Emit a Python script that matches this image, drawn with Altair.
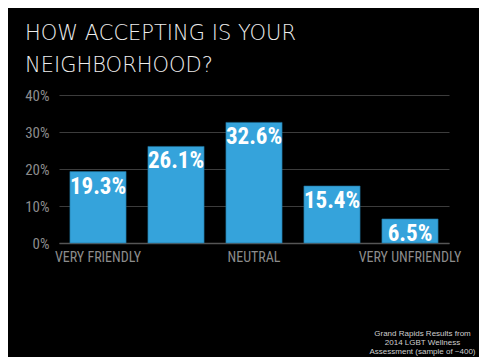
import altair as alt
import pandas as pd

categories = ["VERY FRIENDLY", "FRIENDLY", "NEUTRAL", "UNFRIENDLY", "VERY UNFRIENDLY"]
values = [19.3, 26.1, 32.6, 15.4, 6.5]
shown_labels = ["VERY FRIENDLY", "NEUTRAL", "VERY UNFRIENDLY"]
y_ticks = [0, 10, 20, 30, 40]
title_lines = ["HOW ACCEPTING IS YOUR", "NEIGHBORHOOD?"]
note_lines = ["Grand Rapids Results from", "2014 LGBT Wellness", "Assessment (sample of ~400)"]

df = pd.DataFrame({"cat": categories, "val": values})

COND = "Roboto Condensed, Open Sans Condensed, sans-serif"

label_test = " || ".join([f"datum.label == '{s}'" for s in shown_labels])

x = alt.X(
    "cat:N",
    sort=categories,
    scale=alt.Scale(paddingInner=0.28, paddingOuter=0.14),
    axis=alt.Axis(
        title=note_lines,
        labelExpr=f"({label_test}) ? datum.label : ''",
        labelAngle=0,
        labelFont=COND,
        labelFontSize=14,
        labelColor="#8c8c8c",
        labelPadding=7,
        labelBaseline="top",
        ticks=False,
        domainColor="#555555",
        domainWidth=1.5,
        grid=False,
        titleFont="Liberation Sans, Arial, sans-serif",
        titleFontSize=8,
        titleFontWeight="normal",
        titleColor="#cfcfcf",
        titleAlign="center",
        titleAnchor="start",
        titleBaseline="top",
        titleX=363,
        titleY=86,
        titleLineHeight=9,
    ),
)

y = alt.Y(
    "val:Q",
    scale=alt.Scale(domain=[0, 40]),
    axis=alt.Axis(
        title=None,
        values=y_ticks,
        labelExpr="datum.value + '%'",
        labelFont=COND,
        labelFontSize=15,
        labelColor="#8c8c8c",
        labelPadding=10,
        labelOverlap=False,
        ticks=False,
        domain=False,
        gridColor="#3c3c3c",
        gridWidth=1,
    ),
)

base = alt.Chart(df).encode(x=x, y=y)

bars = base.mark_bar(color="#35a3db", stroke="#1f6f99", strokeWidth=0.6)

text = base.transform_calculate(
    lbl="format(datum.val, '.1f') + '%'"
).mark_text(
    baseline="top",
    dy=4,
    color="white",
    font=COND,
    fontSize=23,
    fontWeight="bold",
).encode(text="lbl:N")

chart = (
    alt.layer(bars, text)
    .properties(
        width=390,
        height=148,
        autosize=alt.AutoSizeParams(type="none"),
        padding={"left": 51, "top": 87, "right": 30, "bottom": 114},
        title=alt.TitleParams(
            text=title_lines,
            anchor="start",
            frame="group",
            dx=-34,
            dy=31,
            offset=22,
            font="DejaVu Sans, Lato, sans-serif",
            fontSize=21,
            fontWeight=200,
            color="#eeeeee",
            lineHeight=32,
            baseline="bottom",
        ),
    )
    .configure(background="black")
    .configure_view(stroke=None)
)

chart.save("out.html", embed_options={"renderer": "svg", "actions": False})
